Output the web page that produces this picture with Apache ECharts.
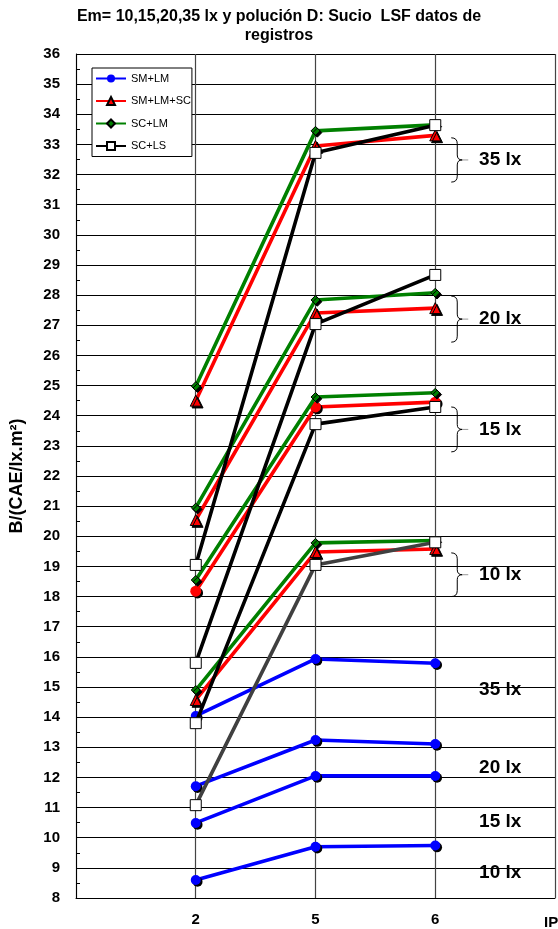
<!DOCTYPE html>
<html>
<head>
<meta charset="utf-8">
<script src="https://cdn.jsdelivr.net/npm/echarts@6/dist/echarts.min.js"></script>
<style>
  html, body { margin: 0; padding: 0; background: #fff; }
  #chart { width: 558px; height: 929px; }
</style>
</head>
<body>
<div id="chart"></div>
<script>
// x positions: an empty slot on each side of the three IP classes
const categories = ['', '2', '5', '6', ''];
const groupNames = ['SM+LM', 'SM+LM+SC', 'SC+LM', 'SC+LS'];
const levels = ['35 lx', '20 lx', '15 lx', '10 lx'];

// SM+LM, B/(CAE/lx.m²) at IP 2, 5, 6
const smLm35 = [14.04, 15.93, 15.79];
const smLm20 = [11.71, 13.24, 13.11];
const smLm15 = [10.49, 12.05, 12.05];
const smLm10 = [8.60, 9.70, 9.74];

// SM+LM+SC
const smLmSc35 = [24.50, 32.95, 33.30];
const smLmSc20 = [20.54, 27.41, 27.57];
const smLmSc15 = [18.18, 24.29, 24.45];
const smLmSc10 = [14.57, 19.48, 19.58];

// SC+LM
const scLm35 = [24.98, 33.45, 33.65];
const scLm20 = [20.95, 27.84, 28.08];
const scLm15 = [18.55, 24.62, 24.76];
const scLm10 = [14.90, 19.78, 19.86];

// SC+LS
const scLs35 = [19.05, 32.72, 33.64];
const scLs20 = [15.80, 27.04, 28.67];
const scLs15 = [13.80, 23.72, 24.29];
const scLs10 = [11.08, 19.05, 19.80];

// value ranges grouped by the curly brackets, one per illuminance level
const bracketTop = [33.22, 27.97, 24.29, 19.45];
const bracketBottom = [31.75, 26.44, 22.80, 18.00];
// where the SM+LM level labels sit on the value axis
const smLmLabelAt = [14.90, 12.31, 10.52, 8.83];

const FONT = "'Liberation Sans', Arial, sans-serif";

const padEnds = vals => [null].concat(vals, [null]);

const markerShadow = {
  shadowColor: '#000', shadowBlur: 0, shadowOffsetX: 1.8, shadowOffsetY: 1.8
};

function makeSeries(name, vals, look) {
  return {
    type: 'line',
    name: name,
    data: padEnds(vals),
    symbol: look.symbol,
    symbolSize: look.size,
    showAllSymbol: true,
    lineStyle: { color: look.line, width: 3.6 },
    itemStyle: Object.assign({
      color: look.fill,
      borderColor: look.border || look.fill,
      borderWidth: look.border ? 1 : 0
    }, look.shadow ? markerShadow : {}),
    emphasis: { disabled: true },
    z: look.z
  };
}

const blueLook = { line: '#0000ff', fill: '#0000ff', symbol: 'circle', size: 10, shadow: true, z: 2 };
const redLook = { line: '#ff0000', fill: '#ff0000', border: '#000', symbol: 'triangle', size: 11, shadow: true, z: 3 };
const redCircleLook = { line: '#ff0000', fill: '#ff0000', symbol: 'circle', size: 11, shadow: true, z: 3 };
const greenLook = { line: '#008000', fill: '#008000', border: '#000', symbol: 'diamond', size: 9, shadow: true, z: 4 };
const blackLook = { line: '#000000', fill: '#ffffff', border: '#000', symbol: 'rect', size: 11, z: 5 };
const greyLook = { line: '#404040', fill: '#ffffff', border: '#000', symbol: 'rect', size: 11, z: 5 };

const series = [
  makeSeries(groupNames[0], smLm35, blueLook),
  makeSeries(groupNames[0], smLm20, blueLook),
  makeSeries(groupNames[0], smLm15, blueLook),
  makeSeries(groupNames[0], smLm10, blueLook),
  makeSeries(groupNames[1], smLmSc35, redLook),
  makeSeries(groupNames[1], smLmSc20, redLook),
  makeSeries(groupNames[1], smLmSc15, redCircleLook),
  makeSeries(groupNames[1], smLmSc10, redLook),
  makeSeries(groupNames[2], scLm35, greenLook),
  makeSeries(groupNames[2], scLm20, greenLook),
  makeSeries(groupNames[2], scLm15, greenLook),
  makeSeries(groupNames[2], scLm10, greenLook),
  makeSeries(groupNames[3], scLs35, blackLook),
  makeSeries(groupNames[3], scLs20, blackLook),
  makeSeries(groupNames[3], scLs15, blackLook),
  makeSeries(groupNames[3], scLs10, greyLook)
];

const option = {
  animation: false,
  backgroundColor: '#fff',
  title: {
    text: 'Em= 10,15,20,35 lx y polución D: Sucio  LSF datos de\nregistros',
    left: 'center',
    top: 7,
    padding: 0,
    textStyle: { fontFamily: FONT, fontSize: 16, fontWeight: 'bold', color: '#000', lineHeight: 19 }
  },
  legend: {
    data: groupNames,
    orient: 'vertical',
    left: 92,
    top: 68,
    padding: [5, 1, 5, 3],
    itemWidth: 30,
    itemHeight: 10,
    itemGap: 11.5,
    backgroundColor: '#fff',
    borderColor: '#000',
    borderWidth: 1,
    borderRadius: 0,
    selectedMode: false,
    textStyle: { fontFamily: FONT, fontSize: 11, color: '#000' }
  },
  grid: { left: 67, right: 1, top: 54, bottom: 31, containLabel: false },
  xAxis: {
    type: 'category',
    data: categories,
    boundaryGap: false,
    axisLine: { lineStyle: { color: '#000', width: 1 } },
    axisTick: { show: false },
    axisLabel: { interval: 0, margin: 14, fontFamily: FONT, fontSize: 15, fontWeight: 'bold', color: '#000' },
    splitLine: { show: true, lineStyle: { color: '#444', width: 1.2 } }
  },
  yAxis: {
    type: 'value',
    min: 8,
    max: 36,
    interval: 1,
    name: 'B/(CAE/lx.m²)',
    nameLocation: 'middle',
    nameGap: 50,
    nameTextStyle: { fontFamily: FONT, fontSize: 18, fontWeight: 'bold', color: '#000' },
    axisLine: { show: true, lineStyle: { color: '#000', width: 1 } },
    axisTick: { show: true, inside: true, length: 4, lineStyle: { color: '#000' } },
    minorTick: { show: true, splitNumber: 2, length: 4, lineStyle: { color: '#000' } },
    axisLabel: { margin: 16, fontFamily: FONT, fontSize: 15, fontWeight: 'bold', color: '#000' },
    splitLine: { show: true, lineStyle: { color: '#000', width: 1 } }
  },
  series: series
};

const chart = echarts.init(document.getElementById('chart'), null, { renderer: 'canvas' });
chart.setOption(option);

// curly brackets and level labels beside the IP 6 column
const toPx = (xi, v) => chart.convertToPixel({ gridIndex: 0 }, [xi, v]);
const xCol = toPx(3, 20)[0];
const labelX = xCol + 65;
const graphics = [];
const braceStroke = { stroke: '#000', lineWidth: 1, fill: null };

levels.forEach((lvl, i) => {
  const top = toPx(3, bracketTop[i])[1];
  const bot = toPx(3, bracketBottom[i])[1];
  const mid = (top + bot) / 2;
  const xh = xCol + 16, xv = xCol + 22, xt = xCol + 27;
  graphics.push(
    { type: 'bezierCurve', shape: { x1: xh, y1: top, cpx1: xv, cpy1: top, x2: xv, y2: top + 6 }, style: braceStroke, z: 10 },
    { type: 'line', shape: { x1: xv, y1: top + 6, x2: xv, y2: mid - 5 }, style: braceStroke, z: 10 },
    { type: 'bezierCurve', shape: { x1: xv, y1: mid - 5, cpx1: xv, cpy1: mid, x2: xt, y2: mid }, style: braceStroke, z: 10 },
    { type: 'bezierCurve', shape: { x1: xv, y1: mid + 5, cpx1: xv, cpy1: mid, x2: xt, y2: mid }, style: braceStroke, z: 10 },
    { type: 'line', shape: { x1: xv, y1: mid + 5, x2: xv, y2: bot - 6 }, style: braceStroke, z: 10 },
    { type: 'bezierCurve', shape: { x1: xv, y1: bot - 6, cpx1: xv, cpy1: bot, x2: xh, y2: bot }, style: braceStroke, z: 10 },
    { type: 'line', shape: { x1: xt, y1: mid, x2: xt + 6, y2: mid }, style: { stroke: '#999', lineWidth: 1 }, z: 10 },
    {
      type: 'text', z: 10,
      style: {
        text: lvl, x: labelX, y: mid,
        align: 'center', verticalAlign: 'middle', textAlign: 'center', textVerticalAlign: 'middle',
        font: 'bold 19px ' + FONT, fill: '#000'
      }
    },
    {
      type: 'text', z: 10,
      style: {
        text: lvl, x: labelX, y: toPx(3, smLmLabelAt[i])[1],
        align: 'center', verticalAlign: 'middle', textAlign: 'center', textVerticalAlign: 'middle',
        font: 'bold 19px ' + FONT, fill: '#000'
      }
    }
  );
});

// x axis title, running past the right edge
const axisY = toPx(0, 8)[1];
graphics.push({
  type: 'text', z: 10,
  style: {
    text: 'IP', x: 544, y: axisY + 25,
    align: 'left', verticalAlign: 'middle', textAlign: 'left', textVerticalAlign: 'middle',
    font: 'bold 15px ' + FONT, fill: '#000'
  }
});

chart.setOption({ graphic: graphics });
</script>
</body>
</html>
